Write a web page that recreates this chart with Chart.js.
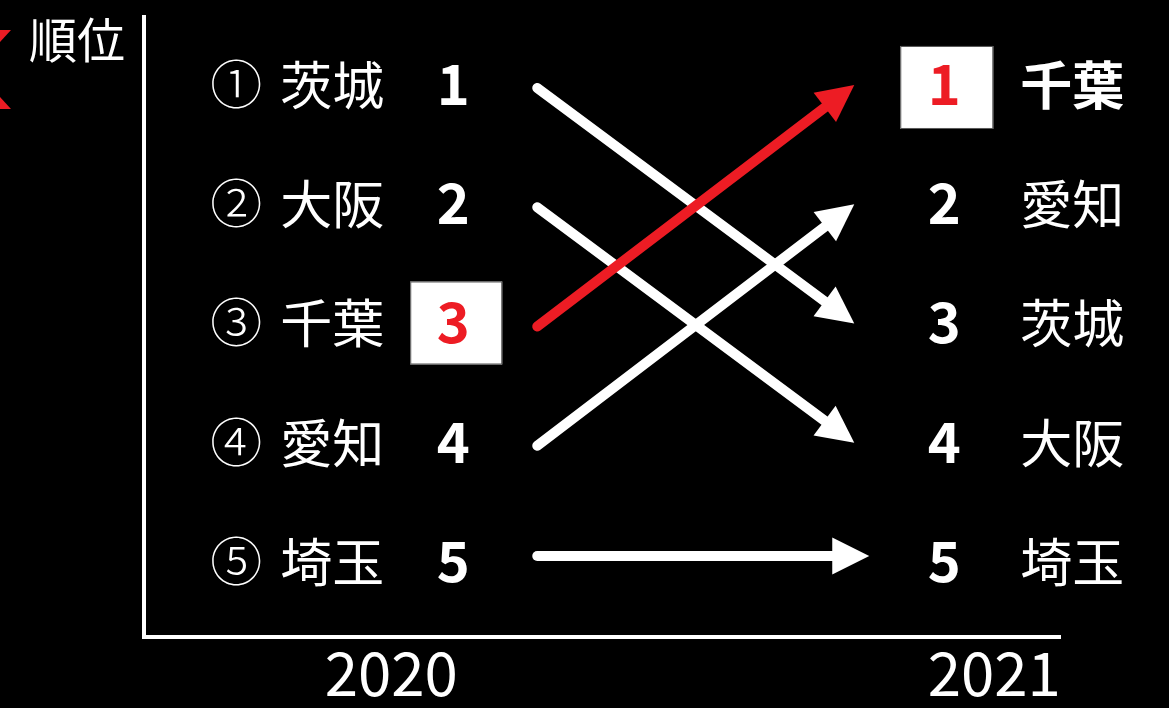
<!DOCTYPE html>
<html>
<head>
<meta charset="utf-8">
<script src="https://cdn.jsdelivr.net/npm/chart.js@4.4.1/dist/chart.umd.min.js"></script>
<style>
  html, body { margin: 0; padding: 0; background: #000; }
  #wrap { width: 1169px; height: 708px; }
</style>
</head>
<body>
<div id="wrap"><canvas id="c" width="1169" height="708"></canvas></div>
<script>
// ---- data ----
const years = [2020, 2021];
const prefectures = ['茨城', '大阪', '千葉', '愛知', '埼玉'];
const rank2020 = [1, 2, 3, 4, 5];
const rank2021 = [3, 4, 1, 2, 5];
const circledNums = ['①', '②', '③', '④', '⑤'];
const highlightPref = '千葉';
const yAxisTitle = '順位';

// ---- styles ----
const WHITE = '#ffffff';
const RED = '#ED1C24';
const FONT = '"Noto Sans CJK JP", "Noto Sans", sans-serif';

const datasets = prefectures.map((p, i) => ({
  label: p,
  data: [{ x: years[0], y: rank2020[i] }, { x: years[1], y: rank2021[i] }],
  showLine: false,
  pointRadius: 0,
  borderColor: p === highlightPref ? RED : WHITE,
  backgroundColor: p === highlightPref ? RED : WHITE
}));

function drawArrow(ctx, x0, y0, x1, y1, color) {
  const headLen = 37, headHalf = 18.5, lw = 10;
  const ang = Math.atan2(y1 - y0, x1 - x0);
  const bx = x1 - headLen * Math.cos(ang);
  const by = y1 - headLen * Math.sin(ang);
  ctx.save();
  ctx.strokeStyle = color;
  ctx.fillStyle = color;
  ctx.lineWidth = lw;
  ctx.lineCap = 'round';
  ctx.beginPath();
  ctx.moveTo(x0, y0);
  ctx.lineTo(bx + 2 * Math.cos(ang), by + 2 * Math.sin(ang));
  ctx.stroke();
  ctx.beginPath();
  ctx.moveTo(x1, y1);
  ctx.lineTo(bx + headHalf * Math.sin(ang), by - headHalf * Math.cos(ang));
  ctx.lineTo(bx - headHalf * Math.sin(ang), by + headHalf * Math.cos(ang));
  ctx.closePath();
  ctx.fill();
  ctx.restore();
}

function text(ctx, str, x, y, size, weight, color, baseOff) {
  ctx.font = weight + ' ' + size + 'px ' + FONT;
  ctx.fillStyle = color;
  ctx.textAlign = 'center';
  ctx.textBaseline = 'alphabetic';
  ctx.fillText(str, x, y + baseOff);
}

const rankingPlugin = {
  id: 'ranking',
  afterDatasetsDraw(chart) {
    const ctx = chart.ctx;
    const xs = chart.scales.x, ys = chart.scales.y;
    const px0 = xs.getPixelForValue(years[0]);
    const px1 = xs.getPixelForValue(years[1]);

    // arrows (highlight last)
    const order = prefectures.map((p, i) => i).sort((a, b) =>
      (prefectures[a] === highlightPref) - (prefectures[b] === highlightPref));
    order.forEach(i => {
      const meta = chart.getDatasetMeta(i);
      const a = meta.data[0], b = meta.data[1];
      const color = prefectures[i] === highlightPref ? RED : WHITE;
      const flat = Math.abs(b.y - a.y) < 1;
      drawArrow(ctx, a.x + 146, a.y + (flat ? -6 : 3), b.x - (flat ? 125 : 140), b.y + (flat ? -6 : 0), color);
    });

    // left column (2020)
    prefectures.forEach((p, i) => {
      const y = ys.getPixelForValue(rank2020[i]);
      text(ctx, circledNums[i], px0 - 155, y, 52, '300', WHITE, 19);
      text(ctx, p, px0 - 59, y, 52, '400', WHITE, 20);
      const hl = p === highlightPref;
      if (hl) {
        ctx.save();
        ctx.fillStyle = WHITE;
        ctx.strokeStyle = '#555';
        ctx.lineWidth = 1;
        ctx.fillRect(px0 + 19, y - 42, 92, 83);
        ctx.strokeRect(px0 + 19.5, y - 41.5, 91, 82);
        ctx.restore();
      }
      text(ctx, String(rank2020[i]), px0 + 62, y, 56, '700', hl ? RED : WHITE, 20);
    });

    // right column (2021)
    prefectures.forEach((p, i) => {
      const y = ys.getPixelForValue(rank2021[i]);
      const hl = p === highlightPref;
      if (hl) {
        ctx.save();
        ctx.fillStyle = WHITE;
        ctx.strokeStyle = '#555';
        ctx.lineWidth = 1;
        ctx.fillRect(px1 - 94, y - 39, 93, 83);
        ctx.strokeRect(px1 - 93.5, y - 38.5, 92, 82);
        ctx.restore();
      }
      text(ctx, String(rank2021[i]), px1 - 50, y, 56, '700', hl ? RED : WHITE, 20);
      text(ctx, p, px1 + 78, y, 52, hl ? '700' : '400', WHITE, 20);
    });

    // y axis title
    const ca = chart.chartArea;
    text(ctx, yAxisTitle, ca.left - 67, ca.top + 23, 48, '400', WHITE, 18);

    // clipped red marks at the left edge
    ctx.save();
    ctx.fillStyle = RED;
    ctx.beginPath();
    ctx.moveTo(0, 30); ctx.lineTo(11, 30); ctx.lineTo(0, 42); ctx.closePath();
    ctx.fill();
    ctx.beginPath();
    ctx.moveTo(0, 97); ctx.lineTo(11, 109); ctx.lineTo(0, 109); ctx.closePath();
    ctx.fill();
    ctx.restore();
  }
};

new Chart(document.getElementById('c'), {
  type: 'scatter',
  data: { datasets },
  options: {
    responsive: false,
    animation: false,
    devicePixelRatio: 1,
    layout: { padding: { top: 17, right: 109, left: 0, bottom: 0 } },
    plugins: { legend: { display: false }, tooltip: { enabled: false } },
    scales: {
      x: {
        type: 'linear',
        min: 2019.59,
        max: 2021.109,
        afterBuildTicks: s => { s.ticks = years.map(v => ({ value: v })); },
        afterFit: s => { s.height = 71; },
        grid: { display: false, drawTicks: false },
        border: { display: true, color: WHITE, width: 4 },
        ticks: {
          color: WHITE,
          padding: 0,
          font: { family: FONT, size: 60, weight: '400' },
          callback: v => String(v)
        }
      },
      y: {
        type: 'linear',
        reverse: true,
        min: 0.43,
        max: 5.629,
        afterFit: s => { s.width = 144; },
        grid: { display: false, drawTicks: false },
        border: { display: true, color: WHITE, width: 4 },
        ticks: { display: false }
      }
    }
  },
  plugins: [rankingPlugin]
});
</script>
</body>
</html>
